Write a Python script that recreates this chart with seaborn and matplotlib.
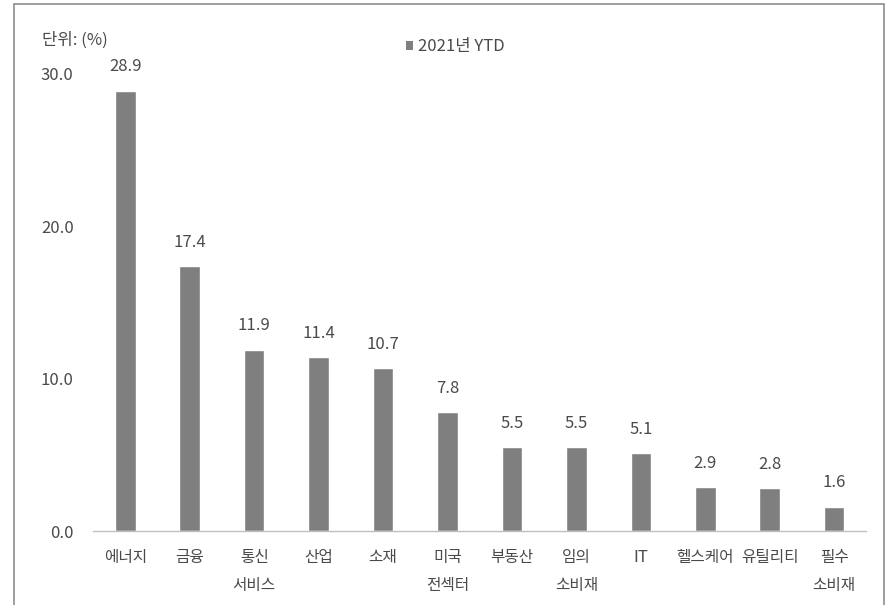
import matplotlib
matplotlib.use("Agg")
import matplotlib.pyplot as plt
from matplotlib.patches import Patch, Rectangle
import seaborn as sns
import pandas as pd

categories = ["에너지", "금융", "통신\n서비스", "산업", "소재", "미국\n전섹터",
              "부동산", "임의\n소비재", "IT", "헬스케어", "유틸리티", "필수\n소비재"]
values = [28.9, 17.4, 11.9, 11.4, 10.7, 7.8, 5.5, 5.5, 5.1, 2.9, 2.8, 1.6]
series_name = "2021년 YTD"
unit_label = "단위: (%)"
y_ticks = [0, 10, 20, 30]

sns.set_theme(style="white")
plt.rcParams["font.family"] = ["Noto Sans CJK KR", "DejaVu Sans"]

text_color = "#4a4a4a"
bar_color = "#7f7f7f"

df = pd.DataFrame({"sector": categories, "ret": values})

fig = plt.figure(figsize=(8.95, 6.05), dpi=100)
ax = fig.add_axes([0.104, 0.1223, 0.864, 0.7554])

sns.barplot(data=df, x="sector", y="ret", color=bar_color, width=0.32,
            saturation=1, ax=ax)

ax.set_ylim(0, 30)
ax.set_xlim(-0.5, len(categories) - 0.5)
ax.set_yticks(y_ticks)
ax.set_yticklabels([f"{v:.1f}" for v in y_ticks], fontsize=12)
ax.set_xlabel("")
ax.set_ylabel("")
ax.tick_params(axis="both", length=0, colors=text_color)
ax.tick_params(axis="y", pad=14)
ax.tick_params(axis="x", pad=13, labelsize=11.3)
for lbl in ax.get_xticklabels():
    lbl.set_linespacing(1.85)
    lbl.set_verticalalignment("top")
    if lbl.get_text() == "IT":
        lbl.set_fontsize(12)

for side in ["top", "right", "left"]:
    ax.spines[side].set_visible(False)
ax.spines["bottom"].set_color("#bfbfbf")
ax.spines["bottom"].set_linewidth(1.0)

ax.bar_label(ax.containers[0], fmt="%.1f", padding=11, fontsize=12,
             color=text_color)

# unit note and legend
fig.text(42 / 895, 1 - 40 / 605, unit_label, fontsize=12, color=text_color,
         ha="left", va="center")
handle = Patch(facecolor=bar_color, edgecolor="none", label=series_name)
fig.legend(handles=[handle], loc="center", bbox_to_anchor=(455 / 895, 1 - 47 / 605),
           frameon=False, fontsize=12, handlelength=0.45, handleheight=0.45,
           handletextpad=0.25, labelcolor=text_color)

# outer frame
fig.patches.append(Rectangle((14 / 895, -0.05), (884 - 14) / 895, 1.05 - 4 / 605,
                             transform=fig.transFigure, fill=False,
                             edgecolor="#8c8c8c", linewidth=1.2))

fig.savefig("out.png", dpi=100)
